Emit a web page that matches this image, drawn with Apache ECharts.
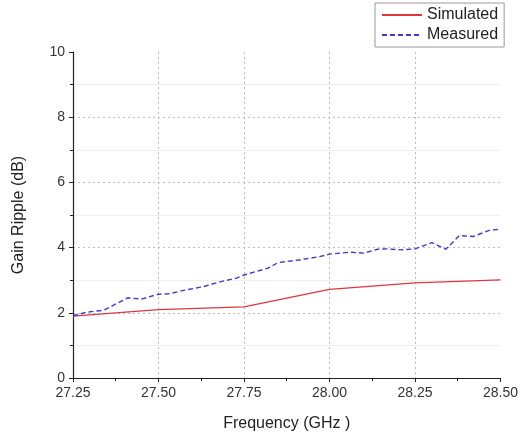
<!DOCTYPE html>
<html>
<head>
<meta charset="utf-8">
<script src="https://cdn.jsdelivr.net/npm/echarts@6/dist/echarts.min.js"></script>
<style>
	html, body { margin: 0; padding: 0; background: #fff; }
	#main { width: 521px; height: 437px; }
</style>
</head>
<body>
<div id="main"></div>
<script>
// 数据
var simFreq = [27.25, 27.50, 27.75, 28.00, 28.25, 28.50];
var simRipple = [1.90, 2.10, 2.18, 2.72, 2.92, 3.01];

var measFreq = [27.25, 27.29, 27.34, 27.37, 27.41, 27.45, 27.50, 27.53, 27.57, 27.63, 27.68, 27.73, 27.75, 27.82, 27.85,
	27.91, 27.97, 28.00, 28.06, 28.10, 28.14, 28.17, 28.21, 28.25, 28.30, 28.34, 28.38, 28.42, 28.47, 28.50];
var measRipple = [1.91, 2.02, 2.08, 2.24, 2.46, 2.42, 2.57, 2.58, 2.68, 2.80, 2.95, 3.07, 3.16, 3.37, 3.54,
	3.62, 3.72, 3.80, 3.86, 3.83, 3.95, 3.96, 3.93, 3.96, 4.15, 3.95, 4.37, 4.34, 4.54, 4.56];

function pairs(xs, ys) {
	var out = [];
	for (var i = 0; i < xs.length; i++) out.push([xs[i], ys[i]]);
	return out;
}

var myChart = echarts.init(document.getElementById('main'));
var font = 'Liberation Sans, Arial, sans-serif';
// 网格线：两端不画
var gridColors = ['rgba(0,0,0,0)', '#bbb', '#bbb', '#bbb', '#bbb', 'rgba(0,0,0,0)'];
var option = {
	animation: false,
	textStyle: { fontFamily: font },
	legend: {
		orient: 'vertical',
		left: 375,
		top: 3,
		itemGap: 4,
		itemWidth: 40,
		itemHeight: 10,
		padding: [4, 6, 4, 6],
		borderColor: '#999',
		borderWidth: 1,
		itemStyle: { opacity: 0 },
		textStyle: { fontSize: 16, color: '#222', fontFamily: font },
		data: ['Simulated', 'Measured']
	},
	grid: { left: 73, right: 19, top: 52, bottom: 59 },
	xAxis: {
		type: 'value',
		min: 27.25,
		max: 28.5,
		interval: 0.25,
		name: 'Frequency (GHz )',
		nameLocation: 'middle',
		nameGap: 38,
		nameTextStyle: { fontSize: 16, color: '#222' },
		axisLine: { onZero: false, lineStyle: { color: '#222', width: 1.2 } },
		axisTick: { length: 4, lineStyle: { color: '#222' } },
		minorTick: { show: true, splitNumber: 2, length: 3, lineStyle: { color: '#222' } },
		axisLabel: {
			margin: 8,
			fontSize: 14,
			color: '#333',
			formatter: function (v) { return v.toFixed(2); }
		},
		splitLine: { show: true, lineStyle: { color: gridColors, type: [2, 3] } }
	},
	yAxis: {
		type: 'value',
		min: 0,
		max: 10,
		interval: 2,
		name: 'Gain Ripple (dB)',
		nameLocation: 'middle',
		nameGap: 46,
		nameTextStyle: { fontSize: 16, color: '#222' },
		axisLine: { show: true, lineStyle: { color: '#222', width: 1.2 } },
		axisTick: { show: true, length: 4, lineStyle: { color: '#222' } },
		minorTick: { show: true, splitNumber: 2, length: 3, lineStyle: { color: '#222' } },
		minorSplitLine: { show: true, lineStyle: { color: '#eee' } },
		axisLabel: { margin: 8, fontSize: 14, color: '#333' },
		splitLine: { show: true, lineStyle: { color: gridColors, type: [2, 3] } }
	},
	series: [{
		name: 'Simulated',
		type: 'line',
		symbol: 'none',
		color: '#e3343e',
		lineStyle: { width: 1.3, color: '#e3343e' },
		data: pairs(simFreq, simRipple)
	}, {
		name: 'Measured',
		type: 'line',
		symbol: 'none',
		color: '#3a3ad6',
		lineStyle: { width: 1.4, color: '#3a3ad6', type: [5, 3] },
		data: pairs(measFreq, measRipple)
	}]
};
myChart.setOption(option);
</script>
</body>
</html>
